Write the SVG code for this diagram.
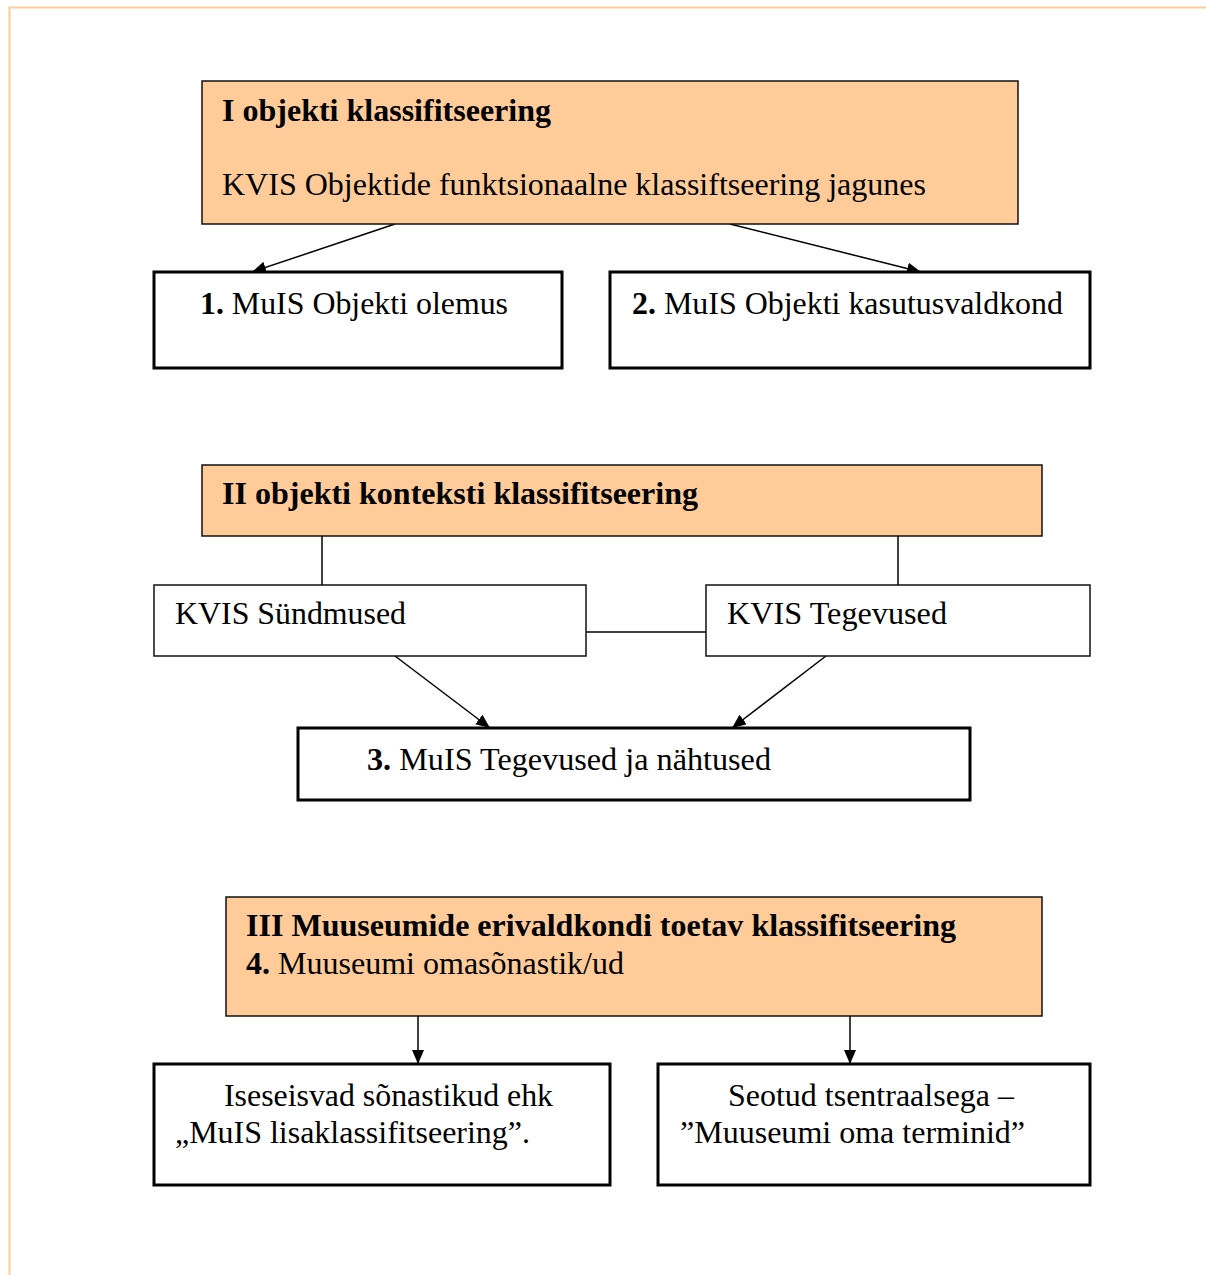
<svg xmlns="http://www.w3.org/2000/svg" width="1206" height="1275" viewBox="0 0 1206 1275">
<style>
text{font-family:"Liberation Serif","Times New Roman",serif;font-size:32px;fill:#000}
.b{font-weight:bold}
.orange{fill:#FFCC99;stroke:#111;stroke-width:1.5}
.thick{fill:#fff;stroke:#000;stroke-width:3}
.thin{fill:#fff;stroke:#111;stroke-width:1.5}
.conn{stroke:#000;stroke-width:1.5;fill:none}
</style>
<defs>
<marker id="ah" viewBox="0 0 10 10" refX="10" refY="5" markerWidth="10" markerHeight="10" markerUnits="userSpaceOnUse" orient="auto">
<path d="M0,0 L10,5 L0,10 z" fill="#000"/>
</marker>
<marker id="ahs" viewBox="0 0 14 12" refX="14" refY="6" markerWidth="14" markerHeight="12" markerUnits="userSpaceOnUse" orient="auto">
<path d="M0,0 L14,6 L0,12 z" fill="#000"/>
</marker>
</defs>
<rect width="1206" height="1275" fill="#fff"/>
<path d="M1206,7.5 H9.5 V1275" fill="none" stroke="#FFCC99" stroke-width="2"/>

<g id="connectors">
<line class="conn" x1="395" y1="224" x2="252" y2="272" marker-end="url(#ahs)"/>
<line class="conn" x1="730" y1="224" x2="921" y2="272" marker-end="url(#ahs)"/>
<line class="conn" x1="322" y1="536" x2="322" y2="585"/>
<line class="conn" x1="898" y1="536" x2="898" y2="585"/>
<line class="conn" x1="586" y1="632" x2="706" y2="632"/>
<line class="conn" x1="395" y1="656" x2="490" y2="728" marker-end="url(#ahs)"/>
<line class="conn" x1="826" y1="656" x2="732" y2="728" marker-end="url(#ahs)"/>
<line class="conn" x1="418" y1="1016" x2="418" y2="1064" marker-end="url(#ahs)"/>
<line class="conn" x1="850" y1="1016" x2="850" y2="1064" marker-end="url(#ahs)"/>
</g>

<g id="n-I">
<rect class="orange" x="202" y="81" width="816" height="143"/>
<text class="b" x="222" y="121" textLength="329" lengthAdjust="spacingAndGlyphs">I objekti klassifitseering</text>
<text x="222" y="195" textLength="704" lengthAdjust="spacingAndGlyphs">KVIS Objektide funktsionaalne klassiftseering jagunes</text>
</g>
<g id="n-1">
<rect class="thick" x="154" y="272" width="408" height="96"/>
<text x="200" y="314" textLength="308" lengthAdjust="spacingAndGlyphs"><tspan class="b">1.</tspan> MuIS Objekti olemus</text>
</g>
<g id="n-2">
<rect class="thick" x="610" y="272" width="480" height="96"/>
<text x="632" y="314" textLength="431" lengthAdjust="spacingAndGlyphs"><tspan class="b">2.</tspan> MuIS Objekti kasutusvaldkond</text>
</g>

<g id="n-II">
<rect class="orange" x="202" y="465" width="840" height="71"/>
<text class="b" x="222" y="504" textLength="476" lengthAdjust="spacingAndGlyphs">II objekti konteksti klassifitseering</text>
</g>
<g id="n-sund">
<rect class="thin" x="154" y="585" width="432" height="71"/>
<text x="175" y="624" textLength="231" lengthAdjust="spacingAndGlyphs">KVIS Sündmused</text>
</g>
<g id="n-teg">
<rect class="thin" x="706" y="585" width="384" height="71"/>
<text x="727" y="624" textLength="220" lengthAdjust="spacingAndGlyphs">KVIS Tegevused</text>
</g>
<g id="n-3">
<rect class="thick" x="298" y="728" width="672" height="72"/>
<text x="367" y="770" textLength="404" lengthAdjust="spacingAndGlyphs"><tspan class="b">3.</tspan> MuIS Tegevused ja nähtused</text>
</g>

<g id="n-III">
<rect class="orange" x="226" y="897" width="816" height="119"/>
<text class="b" x="246" y="936" textLength="710" lengthAdjust="spacingAndGlyphs">III Muuseumide erivaldkondi toetav klassifitseering</text>
<text x="246" y="974" textLength="378" lengthAdjust="spacingAndGlyphs"><tspan class="b">4.</tspan> Muuseumi omasõnastik/ud</text>
</g>
<g id="n-ise">
<rect class="thick" x="154" y="1064" width="456" height="121"/>
<text x="224" y="1106" textLength="329" lengthAdjust="spacingAndGlyphs">Iseseisvad sõnastikud ehk</text>
<text x="175" y="1143" textLength="355" lengthAdjust="spacingAndGlyphs">„MuIS lisaklassifitseering”.</text>
</g>
<g id="n-seo">
<rect class="thick" x="658" y="1064" width="432" height="121"/>
<text x="728" y="1106" textLength="286" lengthAdjust="spacingAndGlyphs">Seotud tsentraalsega –</text>
<text x="680" y="1143" textLength="345" lengthAdjust="spacingAndGlyphs">”Muuseumi oma terminid”</text>
</g>
</svg>
